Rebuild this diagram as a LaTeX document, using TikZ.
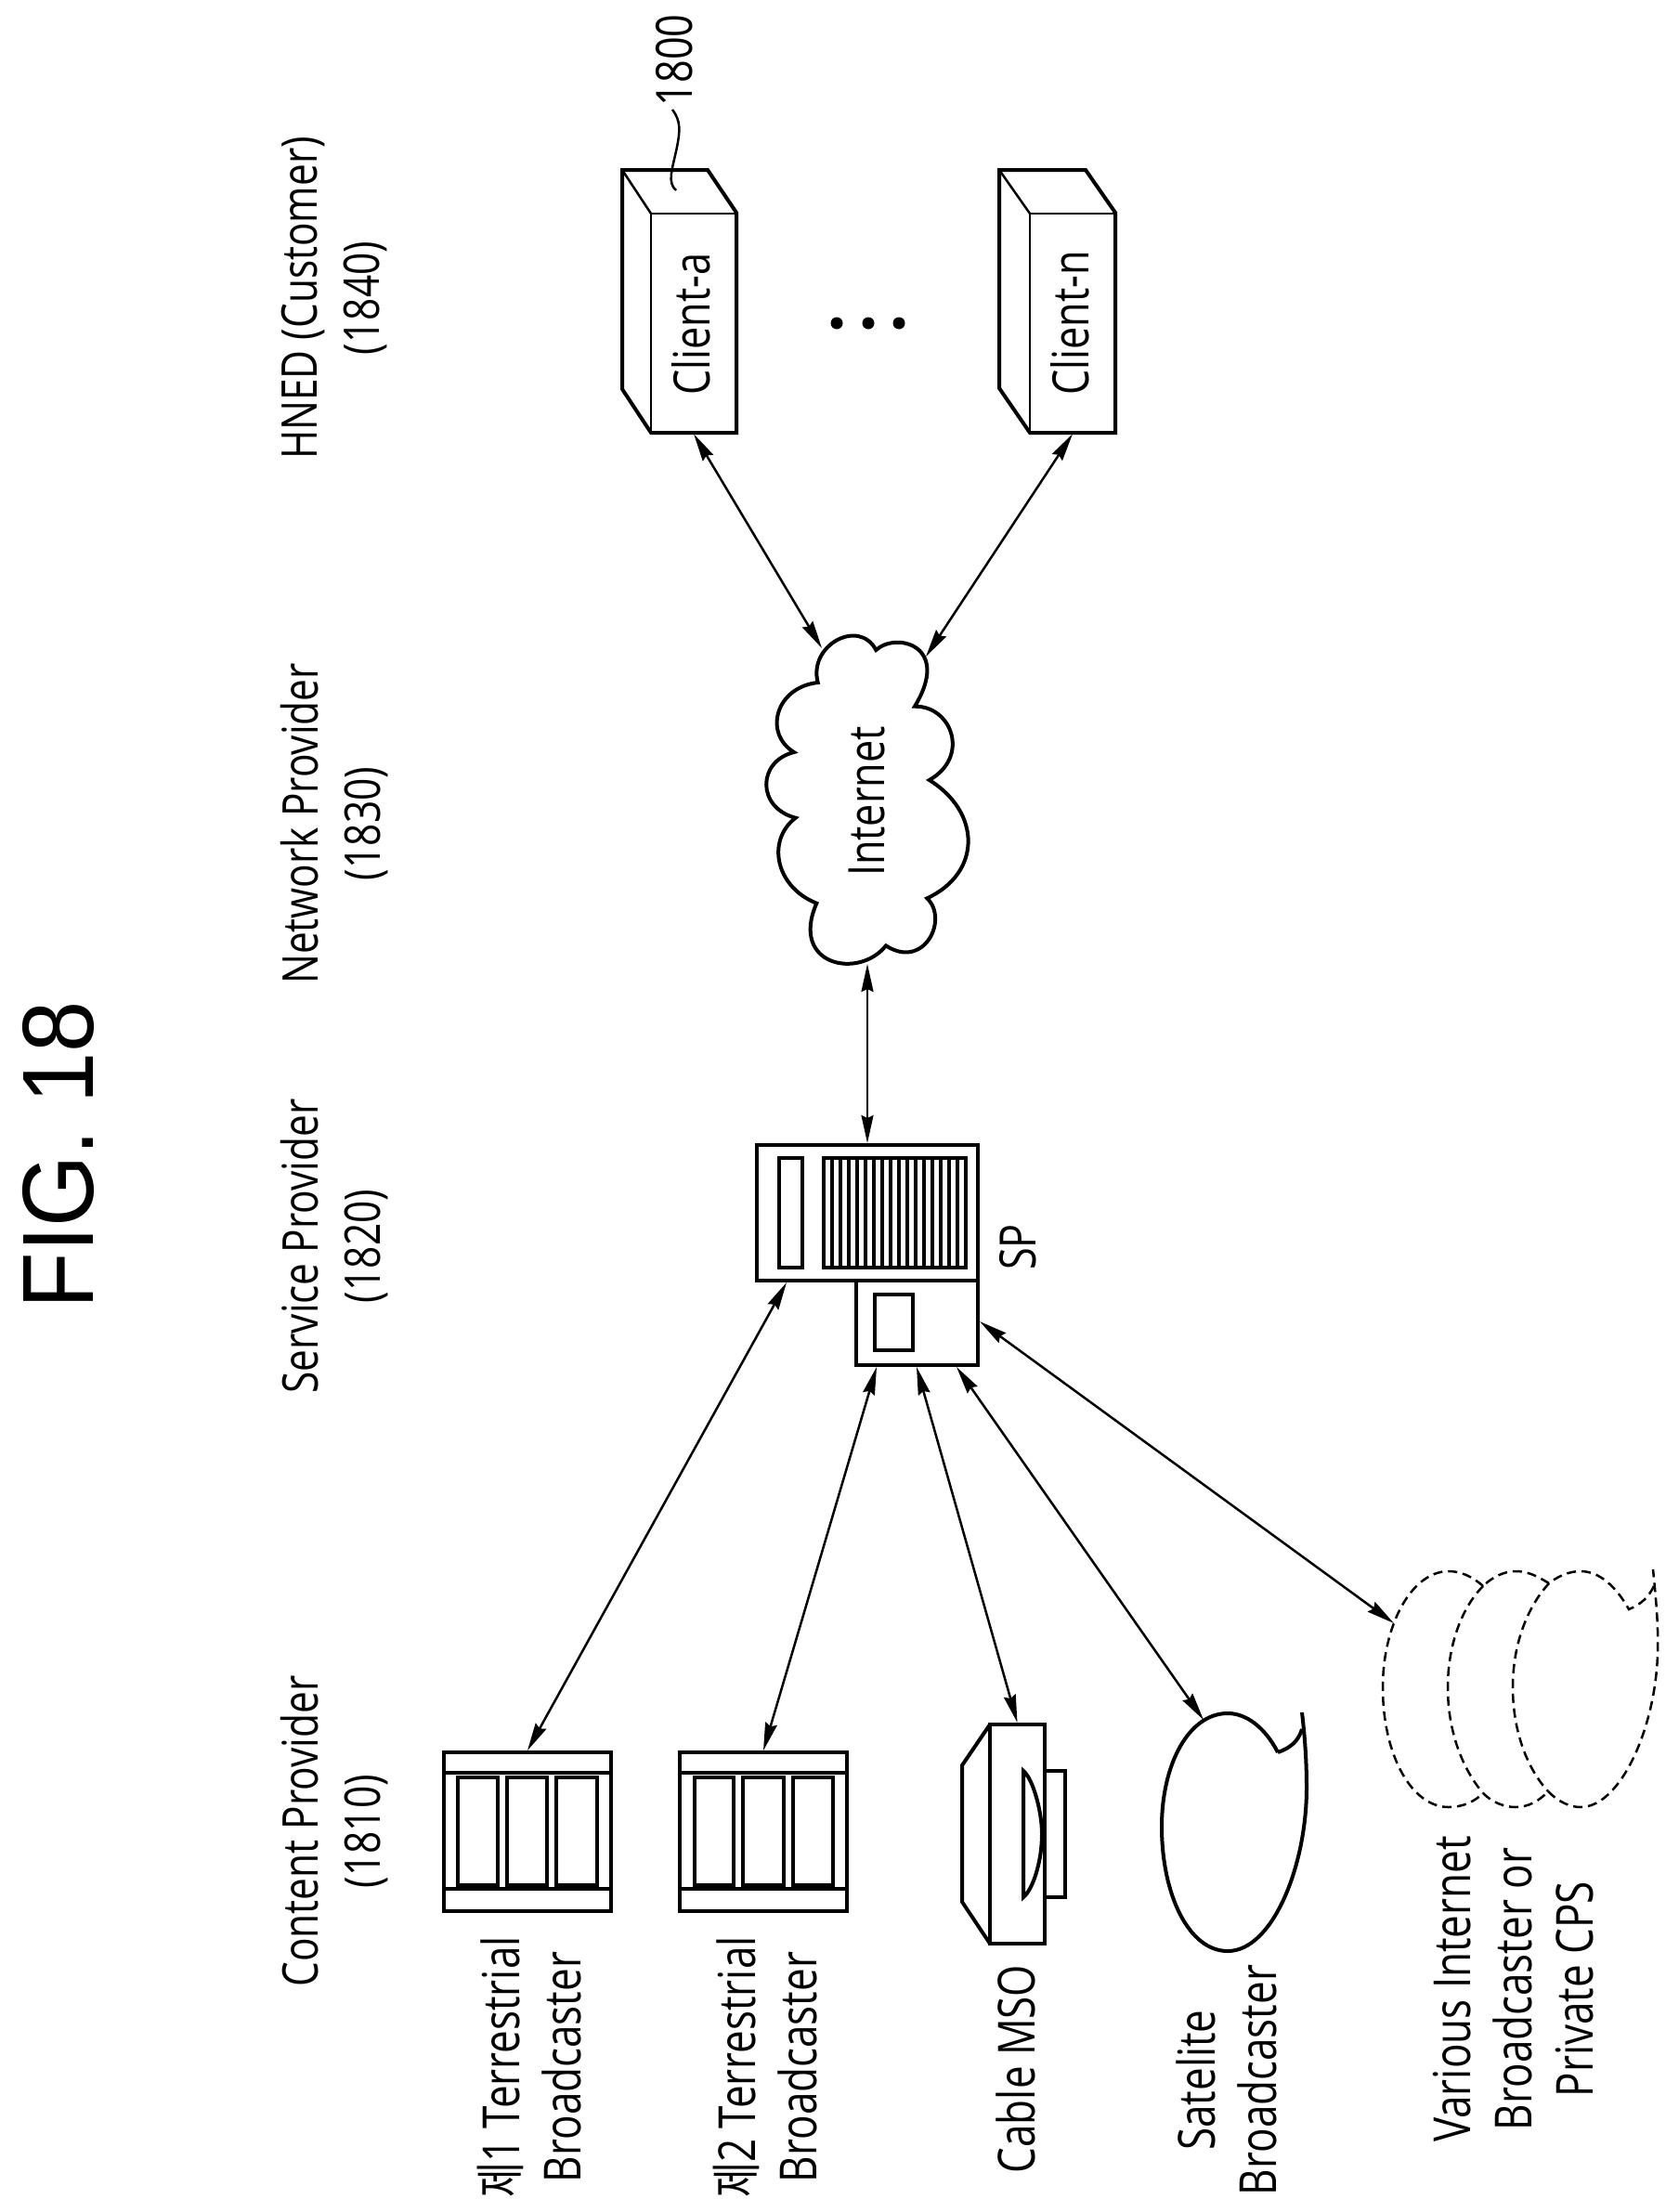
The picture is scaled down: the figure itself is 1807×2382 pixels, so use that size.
\documentclass[tikz,border=0pt]{standalone}
\usepackage{fontspec}
\setmainfont{Open Sans}
\newfontfamily\narrowfont[FakeStretch=0.8]{Open Sans}
\newfontfamily\krfont[FakeStretch=0.75]{Noto Sans CJK KR}
\newfontfamily\figfont[FakeStretch=0.91]{Liberation Sans}
\usetikzlibrary{arrows.meta}

\begin{document}
\begin{tikzpicture}[
  x=1pt, y=-1pt,
  >={Stealth[length=30pt,width=13pt,inset=3pt]},
  box/.style={draw, line width=4pt, inner sep=0pt},
  thinbox/.style={draw, line width=2.5pt, inner sep=0pt},
  cpnt/.style={line width=4pt},
  stripe/.style={line width=3.3pt},
  fine/.style={line width=2.5pt},
  link/.style={<->, line width=2.5pt},
  dash line/.style={line width=2.5pt, dash pattern=on 10pt off 6pt},
  lbl/.style={rotate=90, inner sep=0pt, align=center, font=\narrowfont\fontsize{55}{66}\selectfont},
  tag/.style={rotate=90, anchor=base, inner sep=0pt, font=\narrowfont\fontsize{54}{54}\selectfont},
  head/.style={rotate=90, inner sep=0pt, align=center, font=\narrowfont\fontsize{53}{67}\selectfont},
]
\useasboundingbox (0,0) rectangle (1807,2382);

\node (fig) [rotate=90, anchor=base, inner sep=0pt, font=\figfont\fontsize{109}{109}\selectfont] at (100,1244) {FIG. 18};

\node (hnedhead) [head] at (360,321) {HNED (Customer)\\(1840)};
\node (nethead) [head] at (360,887) {Network Provider\\(1830)};
\node (svchead) [head] at (360,1342) {Service Provider\\(1820)};
\node (cnthead) [head] at (360,1972) {Content Provider\\(1810)};

% clients
\node (clienta) [thinbox, minimum width=92pt, minimum height=236pt] at (747,348) {};
\draw [cpnt] (670,183) -- (762,183) -- (793,229) -- (793,466) -- (701,466) -- (670,419) -- cycle;
\draw [fine] (670,183) -- (701,230);
\node (clientatxt) [tag] at (764,349) {Client-a};

\node (clientn) [thinbox, minimum width=92pt, minimum height=236pt] at (1155,348) {};
\draw [cpnt] (1076,183) -- (1169,183) -- (1201,229) -- (1201,466) -- (1109,466) -- (1076,418) -- cycle;
\draw [fine] (1076,183) -- (1109,230);
\node (clientntxt) [tag] at (1172,348) {Client-n};

\node (refnum) [tag] at (745,65) {1800};
\draw [fine] (724,118) .. controls (733,130) and (733,140) .. (728,163) .. controls (723,185) and (719,197) .. (728,205);

\path [fill=black] (901,348) circle [radius=6.5];
\path [fill=black] (935,348) circle [radius=6.5];
\path [fill=black] (968,348) circle [radius=6.5];

% cloud
\draw [cpnt] (880.7,735) .. controls (870,695) and (925,665) .. (943.3,700)
  .. controls (965,680) and (1025,695) .. (985,760.7)
  .. controls (1025,760) and (1045,815) .. (1000.7,840)
  .. controls (1057,875) and (1057,940) .. (998.3,967.3)
  .. controls (1022,990) and (995,1045) .. (954,1018.3)
  .. controls (925,1055) and (850,1040) .. (879.3,972.7)
  .. controls (835,955) and (825,905) .. (856.7,880.7)
  .. controls (815,870) and (815,820) .. (855,810)
  .. controls (822,790) and (835,740) .. (880.7,735) -- cycle;
\node (cloud) [tag] at (952,863) {Internet};
\coordinate (cloudbot) at (934,1038);
\coordinate (clouda) at (885,698);
\coordinate (cloudn) at (997,707);

% service provider
\node (spmain) [box, minimum width=238pt, minimum height=146pt] at (934,1306) {};
\draw [stripe] (839,1247) rectangle (864,1365);
\draw [stripe] (887,1247) rectangle (1040,1365);
\draw [stripe] (896,1247) -- (896,1365);
\draw [stripe] (905,1247) -- (905,1365);
\draw [stripe] (914,1247) -- (914,1365);
\draw [stripe] (923,1247) -- (923,1365);
\draw [stripe] (932,1247) -- (932,1365);
\draw [stripe] (941,1247) -- (941,1365);
\draw [stripe] (950,1247) -- (950,1365);
\draw [stripe] (959,1247) -- (959,1365);
\draw [stripe] (968,1247) -- (968,1365);
\draw [stripe] (977,1247) -- (977,1365);
\draw [stripe] (986,1247) -- (986,1365);
\draw [stripe] (995,1247) -- (995,1365);
\draw [stripe] (1004,1247) -- (1004,1365);
\draw [stripe] (1013,1247) -- (1013,1365);
\draw [stripe] (1022,1247) -- (1022,1365);
\draw [stripe] (1031,1247) -- (1031,1365);
\node (splow) [box, minimum width=131pt, minimum height=91pt] at (987.5,1424.5) {};
\draw [stripe] (942,1394) rectangle (983,1454);
\node (sptxt) [tag] at (1115,1343) {SP};

% terrestrial
\node (terra) [box, minimum width=180pt, minimum height=171pt] at (568,1972.5) {};
\draw [cpnt] (478,1909) -- (658,1909);
\draw [cpnt] (478,2034) -- (658,2034);
\draw [cpnt] (493,1914) rectangle (536,2030);
\draw [cpnt] (546,1914) rectangle (589,2030);
\draw [cpnt] (599,1914) rectangle (643,2030);
\node (terratxt) [lbl] at (570,2226) {{\krfont 제}1 Terrestrial\\Broadcaster};

\node (terrb) [box, minimum width=180pt, minimum height=171pt] at (822,1972.5) {};
\draw [cpnt] (732,1909) -- (912,1909);
\draw [cpnt] (732,2034) -- (912,2034);
\draw [cpnt] (748,1914) rectangle (790,2030);
\draw [cpnt] (800,1914) rectangle (844,2030);
\draw [cpnt] (854,1914) rectangle (897,2030);
\node (terrbtxt) [lbl] at (824,2226) {{\krfont 제}2 Terrestrial\\Broadcaster};

% cable
\node (cable) [box, minimum width=59pt, minimum height=236pt] at (1095.5,1975) {};
\draw [cpnt] (1066,1857) -- (1036,1901) -- (1036,2048) -- (1066,2093);
\draw [cpnt] (1125,1907) -- (1147,1907) -- (1147,2043) -- (1125,2043);
\draw [cpnt] (1102,1907) .. controls (1112,1915) and (1122,1950) .. (1122,1975) .. controls (1122,2005) and (1112,2035) .. (1102,2043) -- cycle;
\node (cabletxt) [lbl, anchor=base] at (1114,2228) {Cable MSO};

% satelite
\draw [cpnt] (1376,1887) .. controls (1362,1860) and (1342,1845) .. (1322,1845)
  .. controls (1280,1845) and (1251,1900) .. (1251,1967)
  .. controls (1251,2040) and (1280,2101) .. (1322,2101)
  .. controls (1370,2101) and (1407,2010) .. (1407,1925)
  .. controls (1407,1895) and (1405,1870) .. (1402,1844);
\draw [cpnt] (1402,1862) .. controls (1398,1875) and (1390,1882) .. (1376,1887);
\node (sattxt) [lbl] at (1321,2240) {Satelite\\Broadcaster};
\coordinate (satpt) at (1296,1852);

% various internet
\draw [dash line] (1597,1708) .. controls (1585,1697) and (1572,1692) .. (1560,1692)
  .. controls (1520,1692) and (1489,1750) .. (1489,1817)
  .. controls (1489,1890) and (1520,1946) .. (1560,1946)
  .. controls (1575,1946) and (1588,1940) .. (1597,1931);
\draw [dash line] (1597,1708) .. controls (1575,1730) and (1559,1770) .. (1559,1817)
  .. controls (1559,1865) and (1575,1905) .. (1597,1931);
\draw [dash line] (1668,1705) .. controls (1655,1697) and (1645,1692) .. (1632,1692)
  .. controls (1620,1692) and (1607,1698) .. (1597,1708);
\draw [dash line] (1597,1931) .. controls (1607,1941) and (1620,1946) .. (1632,1946)
  .. controls (1645,1946) and (1657,1940) .. (1667,1929);
\draw [dash line] (1668,1705) .. controls (1645,1730) and (1629,1770) .. (1629,1817)
  .. controls (1629,1865) and (1645,1905) .. (1667,1929);
\draw [dash line] (1667,1929) .. controls (1678,1940) and (1690,1946) .. (1702,1946)
  .. controls (1745,1946) and (1783,1860) .. (1785,1780)
  .. controls (1786,1750) and (1783,1720) .. (1780,1690);
\draw [dash line] (1781,1708) .. controls (1775,1720) and (1768,1727) .. (1754,1733)
  .. controls (1740,1708) and (1722,1692) .. (1702,1692)
  .. controls (1690,1692) and (1678,1697) .. (1668,1705);
\node (varioustxt) [lbl] at (1630,2142) {Various Internet\\Broadcaster or\\Private CPS};
\coordinate (variouspt) at (1501,1748);

% connectors
\draw [link] (spmain.north) -- (cloudbot);
\draw [link] (clouda) -- (clienta.south);
\draw [link] (cloudn) -- (clientn.south);
\coordinate (spa) at (847,1381);
\coordinate (spb) at (944,1472);
\coordinate (spc) at (987,1472);
\coordinate (spd) at (1030,1472);
\coordinate (spe) at (1055,1423);
\draw [link] (spa) -- (terra.north);
\draw [link] (spb) -- (terrb.north);
\draw [link] (spc) -- (cable.north);
\draw [link] (spd) -- (satpt);
\draw [link] (spe) -- (variouspt);

\end{tikzpicture}
\end{document}
